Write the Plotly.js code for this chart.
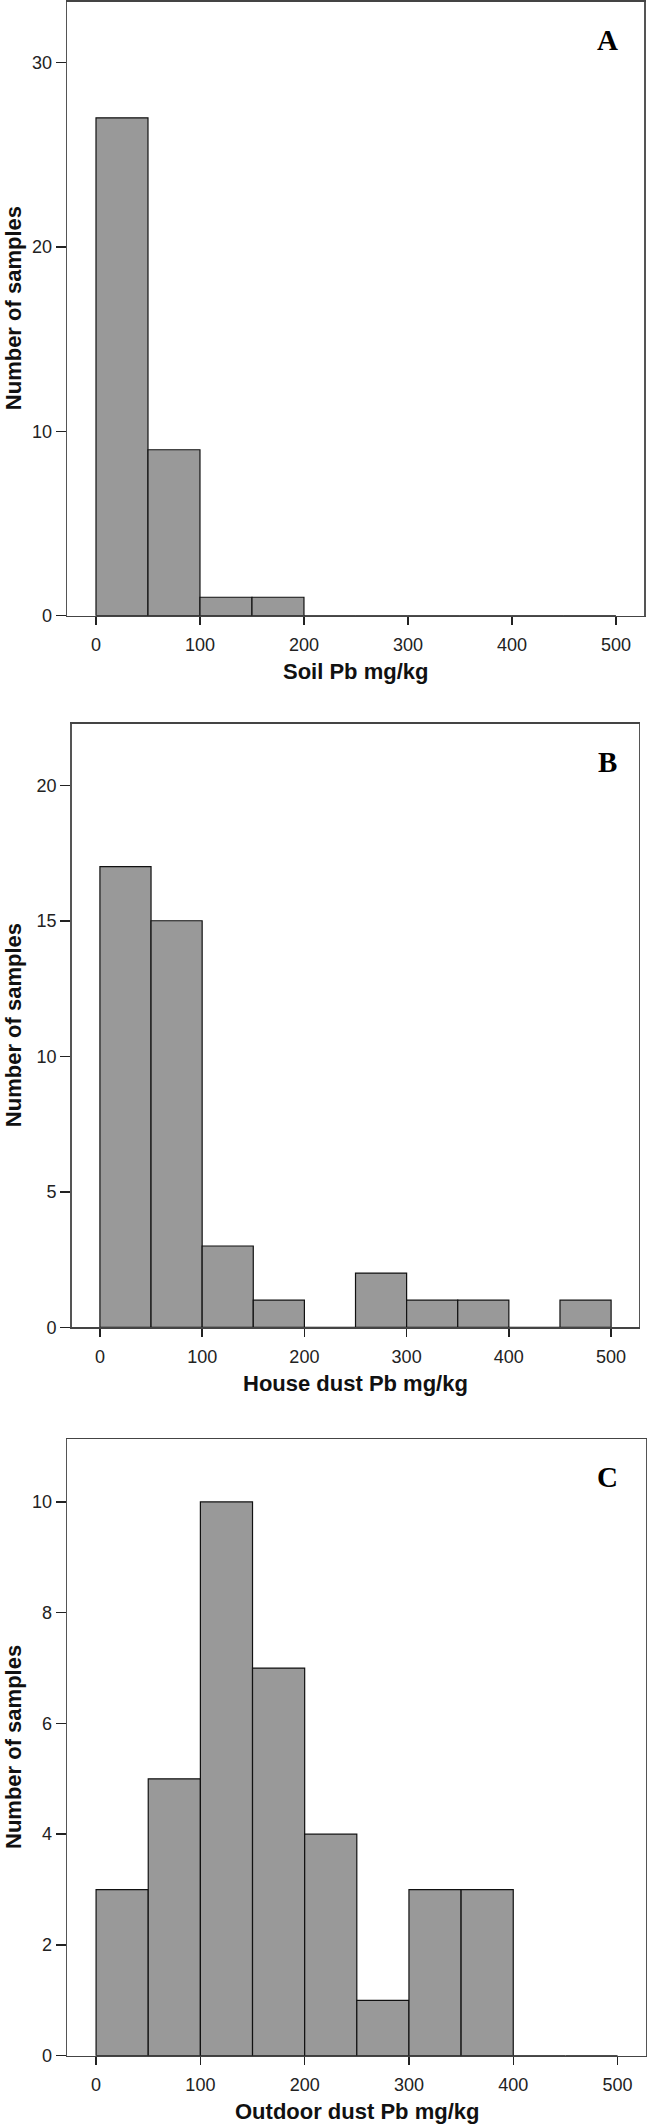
<!DOCTYPE html>
<html>
<head>
<meta charset="utf-8">
<script src="https://cdn.plot.ly/plotly-3.0.1.min.js"></script>
<style>html,body{margin:0;padding:0;background:#fff;}#chart{width:649px;height:2124px;}</style>
</head>
<body>
<div id="chart"></div>
<script>
// Bin lower edges (mg/kg), bin width 50
const binStarts = [0, 50, 100, 150, 200, 250, 300, 350, 400, 450];
const binWidth = 50;
const soilCounts = [27, 9, 1, 1, 0, 0, 0, 0, 0, 0];
const houseDustCounts = [17, 15, 3, 1, 0, 2, 1, 1, 0, 1];
const outdoorDustCounts = [3, 5, 10, 7, 4, 1, 3, 3, 0, 0];
const xTickVals = [0, 100, 200, 300, 400, 500];
const panelLetters = ["A", "B", "C"];
const xTitles = ["Soil Pb mg/kg", "House dust Pb mg/kg", "Outdoor dust Pb mg/kg"];
const yTitle = "Number of samples";

const W = 649, H = 2124;
const px = v => v / W;
const py = v => 1 - v / H;

// plot boxes in pixels: [left, right, top, bottom]
const boxes = [
  [67.3, 644.0, 1.7, 615.7],
  [71.7, 638.7, 724.0, 1327.3],
  [67.3, 645.7, 1439.3, 2055.7]
];
const yRanges = [[0, 33.3], [0, 22.26], [0, 11.13]];
const yDticks = [10, 5, 2];
const countsAll = [soilCounts, houseDustCounts, outdoorDustCounts];
const centers = binStarts.map(b => b + binWidth / 2);

const data = [];
const layout = {
  width: W, height: H,
  margin: {l: 0, r: 0, t: 0, b: 0},
  paper_bgcolor: '#fff', plot_bgcolor: '#fff',
  showlegend: false,
  bargap: 0,
  annotations: []
};

const tickFont = {family: 'Liberation Sans, Arial, sans-serif', size: 18, color: '#222'};
const titleFont = {family: 'Liberation Sans, Arial, sans-serif', size: 22, color: '#111', weight: 'bold'};

for (let i = 0; i < 3; i++) {
  const n = i === 0 ? '' : String(i + 1);
  const b = boxes[i];
  data.push({
    type: 'bar',
    x: centers,
    y: countsAll[i],
    width: binWidth,
    xaxis: 'x' + n,
    yaxis: 'y' + n,
    marker: {color: '#999999', line: {color: '#111', width: 1.2}},
    hoverinfo: 'x+y'
  });
  layout['xaxis' + n] = {
    domain: [px(b[0]), px(b[1])],
    anchor: 'y' + n,
    range: [-27.6, 527],
    tickvals: xTickVals,
    ticks: 'outside', ticklen: 8, tickwidth: 1.5, tickcolor: '#222',
    showline: true, linecolor: '#444', linewidth: 1.6, mirror: true,
    showgrid: false, zeroline: false,
    tickfont: tickFont,
    ticklabelstandoff: 4,
    fixedrange: true
  };
  layout['yaxis' + n] = {
    domain: [py(b[3]), py(b[2])],
    anchor: 'x' + n,
    range: yRanges[i],
    dtick: yDticks[i], tick0: 0,
    ticks: 'outside', ticklen: 10, tickwidth: 1.5, tickcolor: '#222',
    showline: true, linecolor: '#555', linewidth: 1.6, mirror: true,
    showgrid: false, zeroline: false,
    tickfont: tickFont,
    fixedrange: true
  };
  // panel letter
  layout.annotations.push({
    text: '<b>' + panelLetters[i] + '</b>',
    xref: 'paper', yref: 'paper',
    x: px(607.7), y: py(b[2] + 38),
    xanchor: 'center', yanchor: 'middle', showarrow: false,
    font: {family: 'Liberation Serif, Times New Roman, serif', size: 29, color: '#000'}
  });
  // x title
  layout.annotations.push({
    text: '<b>' + xTitles[i] + '</b>',
    xref: 'paper', yref: 'paper',
    x: px((b[0] + b[1]) / 2), y: py(b[3] + 56),
    xanchor: 'center', yanchor: 'middle', showarrow: false,
    font: titleFont
  });
  // y title
  layout.annotations.push({
    text: '<b>' + yTitle + '</b>',
    xref: 'paper', yref: 'paper',
    x: px(13.5), y: py((b[2] + b[3]) / 2),
    xanchor: 'center', yanchor: 'middle', showarrow: false,
    textangle: -90,
    font: titleFont
  });
}

Plotly.newPlot('chart', data, layout, {displayModeBar: false, staticPlot: true});
</script>
</body>
</html>
